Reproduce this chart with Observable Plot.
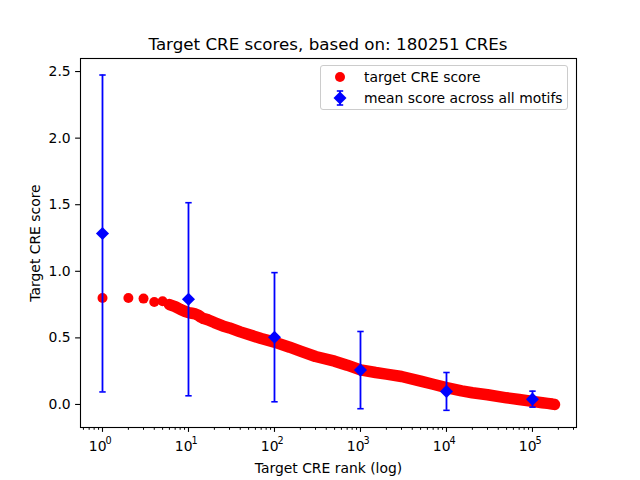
<!DOCTYPE html>
<html>
<head>
<meta charset="utf-8">
<script src="https://cdn.jsdelivr.net/npm/d3@7"></script>
<script src="https://cdn.jsdelivr.net/npm/@observablehq/plot@0.6"></script>
<style>
  html, body { margin: 0; padding: 0; background: #fff; }
  body { font-family: "DejaVu Sans", sans-serif; width: 640px; height: 480px; overflow: hidden; }
  #wrap { position: relative; width: 640px; height: 480px; }
  #title { box-sizing: border-box; height: 54px; padding-top: 34px; padding-left: 16px; line-height: 20px;
           font-size: 16.7px; text-align: center; color: #000; white-space: nowrap; }
  #legend { position: absolute; left: 320px; top: 65px; width: 248px; height: 45px; box-sizing: border-box;
            border: 1px solid #cccccc; border-radius: 3px; background: rgba(255,255,255,0.8);
            font-size: 13.9px; color: #000; }
  .row { position: absolute; left: 0; height: 20px; line-height: 20px; white-space: nowrap; }
  .row svg { position: absolute; left: 8px; top: 0; }
  .row span { position: absolute; left: 43px; top: 0; }
</style>
</head>
<body>
<div id="wrap">
  <div id="title">Target CRE scores, based on: 180251 CREs</div>
  <div id="chart"></div>
  <div id="legend"></div>
</div>
<script>
// ---- data ----
const ranks  = [1, 2, 3, 4, 5, 6, 7, 8, 9, 10, 11, 12, 13, 14, 15, 17, 20, 25, 30, 40, 50, 70,
                100, 150, 200, 300, 500, 700, 1000, 1500, 2000, 3000, 5000, 7000, 10000, 15000,
                20000, 30000, 50000, 70000, 100000, 130000, 150000, 170000, 180251];
const scores = [0.80, 0.80, 0.795, 0.77, 0.775, 0.75, 0.735, 0.715, 0.70, 0.69, 0.685, 0.68, 0.67, 0.655, 0.645, 0.635, 0.615, 0.59, 0.575, 0.545, 0.525, 0.495,
                0.468, 0.43, 0.40, 0.36, 0.325, 0.295, 0.26, 0.24, 0.228, 0.21, 0.175, 0.152, 0.127, 0.102,
                0.088, 0.073, 0.05, 0.037, 0.023, 0.013, 0.008, 0.003, 0.0];
const meanRanks = [1, 10, 100, 1000, 10000, 100000];
const meanScores = [1.284, 0.79, 0.505, 0.258, 0.098, 0.040];
const meanStd    = [1.19, 0.725, 0.485, 0.29, 0.142, 0.06];
const xMajorTicks = [1, 10, 100, 1000, 10000, 100000];
const yTicks = [0, 0.5, 1.0, 1.5, 2.0, 2.5];
const titleText = "Target CRE scores, based on: 180251 CREs";
const xLabel = "Target CRE rank (log)";
const yLabel = "Target CRE score";
const legendLabels = ["target CRE score", "mean score across all motifs"];

// ---- derived tables ----
const cre = ranks.map((r, i) => ({rank: r, score: scores[i]}));
const means = meanRanks.map((r, i) => ({rank: r, mean: meanScores[i], lo: meanScores[i] - meanStd[i], hi: meanScores[i] + meanStd[i]}));
const minorTicks = [];
for (let e = -1; e <= 5; e++) for (let m = 2; m <= 9; m++) {
  const v = m * Math.pow(10, e);
  if (v > 0.555 && v < 325000) minorTicks.push(v);
}
const expOf = v => String(Math.round(Math.log10(v)));

const capSymbol = { draw(ctx, size) { ctx.moveTo(-3.2, 0); ctx.lineTo(3.2, 0); } };

const RED = "#ff0000", BLUE = "#0000ff";

const chart = Plot.plot({
  width: 640,
  height: 426,
  marginLeft: 80,
  marginRight: 64,
  marginTop: 4,
  marginBottom: 53,
  style: {fontFamily: "DejaVu Sans, sans-serif", fontSize: "13.9px", color: "#000", background: "transparent"},
  x: {type: "log", domain: [0.555, 325000]},
  y: {domain: [-0.173, 2.598]},
  marks: [
    // dense band of CRE scores
    Plot.line(cre.filter(d => d.rank >= 6), {x: "rank", y: "score", stroke: RED, strokeWidth: 11.5, strokeLinecap: "round", strokeLinejoin: "round"}),
    Plot.dot(cre, {x: "rank", y: "score", r: 5, fill: RED, stroke: "none"}),
    // error bars
    Plot.ruleX(means, {x: "rank", y1: "lo", y2: "hi", stroke: BLUE, strokeWidth: 1.8}),
    Plot.dot(means, {x: "rank", y: "lo", symbol: capSymbol, stroke: BLUE, strokeWidth: 1.6, fill: "none"}),
    Plot.dot(means, {x: "rank", y: "hi", symbol: capSymbol, stroke: BLUE, strokeWidth: 1.6, fill: "none"}),
    Plot.dot(means, {x: "rank", y: "mean", symbol: "diamond2", r: 5.9, fill: BLUE, stroke: "none"}),
    // axes
    Plot.axisX({ticks: minorTicks, tickSize: 2.8, tickFormat: () => "", label: null}),
    Plot.axisX({ticks: xMajorTicks, tickSize: 4.9, tickFormat: () => "",
                label: xLabel, labelAnchor: "center", labelOffset: 45, labelArrow: "none", strokeWidth: 1.1}),
    // power-of-ten tick labels: base and superscript exponent
    Plot.text(xMajorTicks, {x: d => d, frameAnchor: "bottom", text: () => "10", lineAnchor: "middle",
                            dx: -4.8, dy: 19, fontSize: 13.9, fill: "#000"}),
    Plot.text(xMajorTicks, {x: d => d, frameAnchor: "bottom", text: expOf, lineAnchor: "middle",
                            dx: 6.2, dy: 13.5, fontSize: 9.7, fill: "#000"}),
    Plot.axisY({ticks: yTicks, tickSize: 4.9, tickPadding: 4.9, tickFormat: d3.format(".1f"), fontSize: 13.9,
                label: yLabel, labelAnchor: "center", labelOffset: 50, labelArrow: "none", strokeWidth: 1.1}),
    Plot.frame({stroke: "#000", strokeWidth: 1.1})
  ]
});
document.getElementById("chart").appendChild(chart);
document.getElementById("title").textContent = titleText;

// legend (HTML overlay inside the axes, upper right)
const legend = document.getElementById("legend");
legend.innerHTML = `
  <div class="row" style="top:1px"><svg width="22" height="20"><circle cx="11" cy="10" r="5" fill="${RED}"/></svg><span>${legendLabels[0]}</span></div>
  <div class="row" style="top:22px"><svg width="22" height="20">
     <line x1="11" y1="3" x2="11" y2="17" stroke="${BLUE}" stroke-width="1.8"/>
     <line x1="7.8" y1="3" x2="14.2" y2="3" stroke="${BLUE}" stroke-width="1.6"/>
     <line x1="7.8" y1="17" x2="14.2" y2="17" stroke="${BLUE}" stroke-width="1.6"/>
     <path d="M11 3.5 L17.5 10 L11 16.5 L4.5 10 Z" fill="${BLUE}"/></svg><span>${legendLabels[1]}</span></div>`;
</script>
</body>
</html>
